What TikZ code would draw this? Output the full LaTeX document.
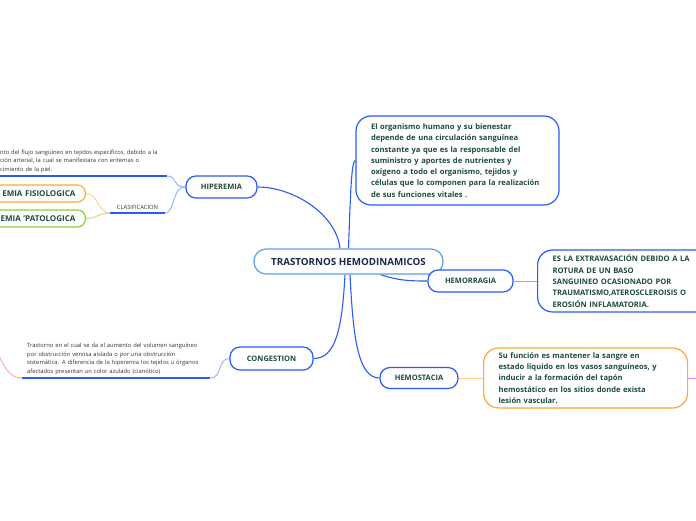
\documentclass[tikz,border=0pt]{standalone}
\usepackage{fontspec}
\setmainfont{Open Sans}
\usetikzlibrary{backgrounds}
\definecolor{mainblue}{HTML}{2B5BF5}
\definecolor{lightblue}{HTML}{8FAEFF}
\definecolor{cborder}{HTML}{5AA0E6}
\definecolor{navy}{HTML}{1B2A4A}
\definecolor{dgreen}{HTML}{1E4B3C}
\definecolor{orangeb}{HTML}{FFA833}
\definecolor{lorange}{HTML}{FFCF85}
\definecolor{greenb}{HTML}{86D03C}
\definecolor{lgreen}{HTML}{B8E67E}
\definecolor{pinkl}{HTML}{FFA8A8}
\definecolor{purplel}{HTML}{C98BF2}
\definecolor{grayt}{HTML}{333333}
\tikzset{
  central/.style={draw=cborder, line width=1.2pt, rounded corners=12pt, fill=white,
    text=navy, font=\fontsize{9.8}{11}\selectfont\bfseries, inner sep=0pt,
    minimum width=189pt, minimum height=25pt},
  topic/.style={draw=mainblue, line width=1.2pt, rounded corners=10pt, fill=white,
    text=dgreen, font=\fontsize{7.5}{9}\selectfont\bfseries, inner sep=0pt, minimum height=22pt},
  descbox/.style={line width=1.2pt, rounded corners=15pt, fill=white, text=dgreen,
    font=\fontsize{7.6}{11.3}\selectfont\bfseries, align=left, inner xsep=15pt, inner ysep=0pt},
  subbox/.style={line width=1.2pt, rounded corners=8pt, fill=white, text=dgreen,
    font=\fontsize{8}{9}\selectfont\bfseries, align=right, inner ysep=0pt, inner xsep=10pt,
    minimum height=17pt, anchor=east},
  smalltext/.style={text=grayt, font=\fontsize{5.8}{8.6}\selectfont, align=left},
  conn/.style={draw=mainblue, line width=1.1pt},
  lconn/.style={draw=lightblue, line width=0.9pt},
  uline/.style={draw=mainblue, line width=1.8pt},
}
\begin{document}
\begin{tikzpicture}[x=1pt,y=-1pt]
\useasboundingbox (0,0) rectangle (696,520);
\clip (0,0) rectangle (696,520);

\node[central] (center) at (348.5,261.5) {TRASTORNOS HEMODINAMICOS};
\node[topic, minimum width=71pt] (hiper) at (221.5,187) {HIPEREMIA};
\node[topic, minimum width=85pt] (hemor) at (470.5,281) {HEMORRAGIA};
\node[topic, minimum width=83pt, minimum height=23pt] (cong) at (271.5,358.5) {CONGESTION};
\node[topic, minimum width=78pt, minimum height=21pt] (hemost) at (419,378) {HEMOSTACIA};

\node[descbox, draw=mainblue, text width=173pt, minimum height=89pt] (intro) at (457.5,160.5)
 {El organismo humano y su bienestar\\
  depende de una circulación sanguínea\\
  constante ya que es la responsable del\\
  suministro y aportes de nutrientes y\\
  oxígeno a todo el organismo, tejidos y\\
  células que lo componen para la realización\\
  de sus funciones vitales .};

\node[descbox, draw=mainblue, text width=150pt, minimum height=62pt, anchor=west] (hemdesc) at (537,281)
 {ES LA EXTRAVASACIÓN  DEBIDO A LA\\
  ROTURA  DE UN BASO\\
  SANGUINEO OCASIONADO POR\\
  TRAUMATISMO,ATEROSCLEROISIS O\\
  EROSIÓN INFLAMATORIA.};

\node[descbox, draw=orangeb, text width=174pt, minimum height=60pt, anchor=west] (hsdesc) at (483,378)
 {Su función es mantener la sangre en\\
  estado líquido en los vasos sanguíneos, y\\
  inducir a la formación del tapón\\
  hemostático en los sitios donde exista\\
  lesión vascular.};

% hiperemia children
\node[smalltext, anchor=south west, text width=167pt, inner xsep=0pt, inner ysep=3pt] (hdesc) at (0,176)
 {nto del flujo sanguíneo en tejidos específicos, debido a la\\
  ción arterial, la cual se manifestara con eritemas o\\
  cimiento de la piel.};
\node[text=grayt, font=\fontsize{5.8}{6}\selectfont, anchor=south, minimum width=55pt, inner xsep=0pt, inner ysep=3pt] (clas) at (137.5,213) {CLASIFICACION};
\node[subbox, draw=orangeb, text width=90pt] (fisio) at (86,193.5) {EMIA FISIOLOGICA};
\node[subbox, draw=greenb, text width=90pt] (pato) at (86,218.5) {EMIA 'PATOLOGICA};

% congestion description
\node[smalltext, anchor=south west, text width=178pt, inner xsep=5pt, inner ysep=3pt] (cdesc) at (22,378)
 {Trastorno en el cual se da el aumento del volumen sanguíneo\\
  por obstrucción venosa aislada o por una obstrucción\\
  sistemática. A diferencia de la hiperemia los tejidos u órganos\\
  afectados presentan un color azulado (cianótico)};

\coordinate (pinkend) at (-1,356);
\coordinate (purpend) at (700,378);

\begin{scope}[on background layer]
% main connectors
\draw[conn] ([xshift=-8.5pt]center.north) .. controls +(-4,-35) and +(35,0) .. (hiper.east);
\draw[conn] (center.north) .. controls +(2,-55) and +(-4,0) .. (intro.west);
\draw[conn] ([xshift=32pt]center.south) .. controls +(18,6) and +(-18,0) .. (hemor.west);
\draw[conn] ([xshift=-3.5pt]center.south) .. controls +(-3,55) and +(22,0) .. (cong.east);
\draw[conn] ([xshift=1.5pt]center.south) .. controls +(3,60) and +(-22,0) .. (hemost.west);

% secondary connectors
\draw[lconn] (hemor.east) -- (hemdesc.west);
\draw[draw=lorange, line width=0.9pt] (hemost.east) -- (hsdesc.west);
\draw[draw=purplel, line width=0.9pt] (hsdesc.east) -- (purpend);

\draw[lconn] (hiper.west) .. controls +(-14,0) and +(10,0) .. (hdesc.south east);
\draw[lconn] (hiper.west) .. controls +(-14,0) and +(10,0) .. (clas.south east);
\draw[draw=lorange, line width=0.9pt] (clas.south west) .. controls +(-12,0) and +(12,0) .. (fisio.east);
\draw[draw=lgreen, line width=0.9pt] (clas.south west) .. controls +(-12,0) and +(12,0) .. (pato.east);

\draw[lconn] (cong.west) .. controls +(-12,0) and +(12,0) .. (cdesc.south east);
\draw[draw=pinkl, line width=0.9pt] (cdesc.south west) .. controls +(-12,0) and +(6,12) .. (pinkend);
\end{scope}

\draw[uline] (hdesc.south west) -- (hdesc.south east);
\draw[draw=mainblue, line width=1.4pt] (clas.south west) -- (clas.south east);
\draw[uline] (cdesc.south west) -- (cdesc.south east);
\end{tikzpicture}
\end{document}
